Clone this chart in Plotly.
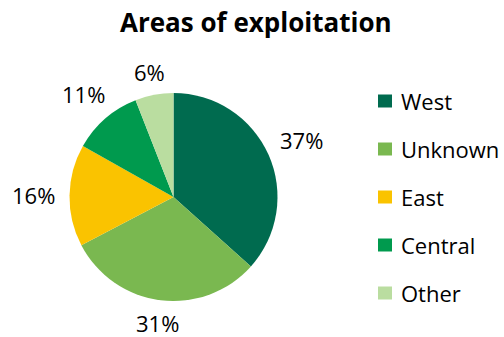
import math
import plotly.graph_objects as go

categories = ["West", "Unknown", "East", "Central", "Other"]
values = [37, 31, 16, 11, 6]
labels_text = ["37%", "31%", "16%", "11%", "6%"]
colors = ["#006B4F", "#7AB850", "#FAC300", "#009A4E", "#BADDA0"]
title_text = "Areas of exploitation"

W, H = 504, 337
FONT = "Open Sans"


def px(x):
    return x / W


def py(y):
    return 1 - y / H


cx, cy, R = 173.5, 197.0, 104.0  # window pixel center and radius

fig = go.Figure()
fig.add_trace(go.Pie(
    labels=categories, values=values, sort=False, direction="clockwise",
    rotation=0, textinfo="none", hoverinfo="label+percent",
    marker=dict(colors=colors, line=dict(width=0)),
    domain=dict(x=[px(cx - R), px(cx + R)], y=[py(cy + R), py(cy - R)]),
    showlegend=False,
))

annotations = []
total = sum(values)
cum = 0
LBL = 22
gap = 14
for v, t in zip(values, labels_text):
    mid = (cum + v / 2) / total * 2 * math.pi
    cum += v
    s, c = math.sin(mid), math.cos(mid)
    hw = ((len(t) - 1) * 0.572 + 0.834) * LBL / 2
    hh = 6
    r = R + gap + abs(s) * hw + abs(c) * hh
    annotations.append(dict(x=px(cx + r * s), y=py(cy - r * c), xref="paper", yref="paper",
                            text=t, showarrow=False, xanchor="center", yanchor="middle",
                            font=dict(family=FONT, size=LBL, color="#000000")))

shapes = []
leg_x0, leg_y0, leg_dy = 378, 101, 48
for i, (name, col) in enumerate(zip(categories, colors)):
    yc = leg_y0 + i * leg_dy
    shapes.append(dict(type="rect", xref="paper", yref="paper",
                       x0=px(leg_x0), x1=px(leg_x0 + 14),
                       y0=py(yc + 6.5), y1=py(yc - 6.5),
                       fillcolor=col, line=dict(width=0)))
    annotations.append(dict(x=px(leg_x0 + 21), y=py(yc), xref="paper", yref="paper",
                            text=name, showarrow=False, xanchor="left", yanchor="middle",
                            font=dict(family=FONT, size=22, color="#000000")))

annotations.append(dict(x=px(255.5), y=py(22), xref="paper", yref="paper",
                        text="<b>" + title_text + "</b>", showarrow=False,
                        xanchor="center", yanchor="middle",
                        font=dict(family=FONT, size=26, color="#000000")))

fig.update_layout(width=W, height=H, margin=dict(l=0, r=0, t=0, b=0),
                  paper_bgcolor="white", plot_bgcolor="white",
                  annotations=annotations, shapes=shapes)
fig.write_html("out.html", config={"displayModeBar": False},
               post_script="document.body.style.margin='0';document.body.style.overflow='hidden';")
